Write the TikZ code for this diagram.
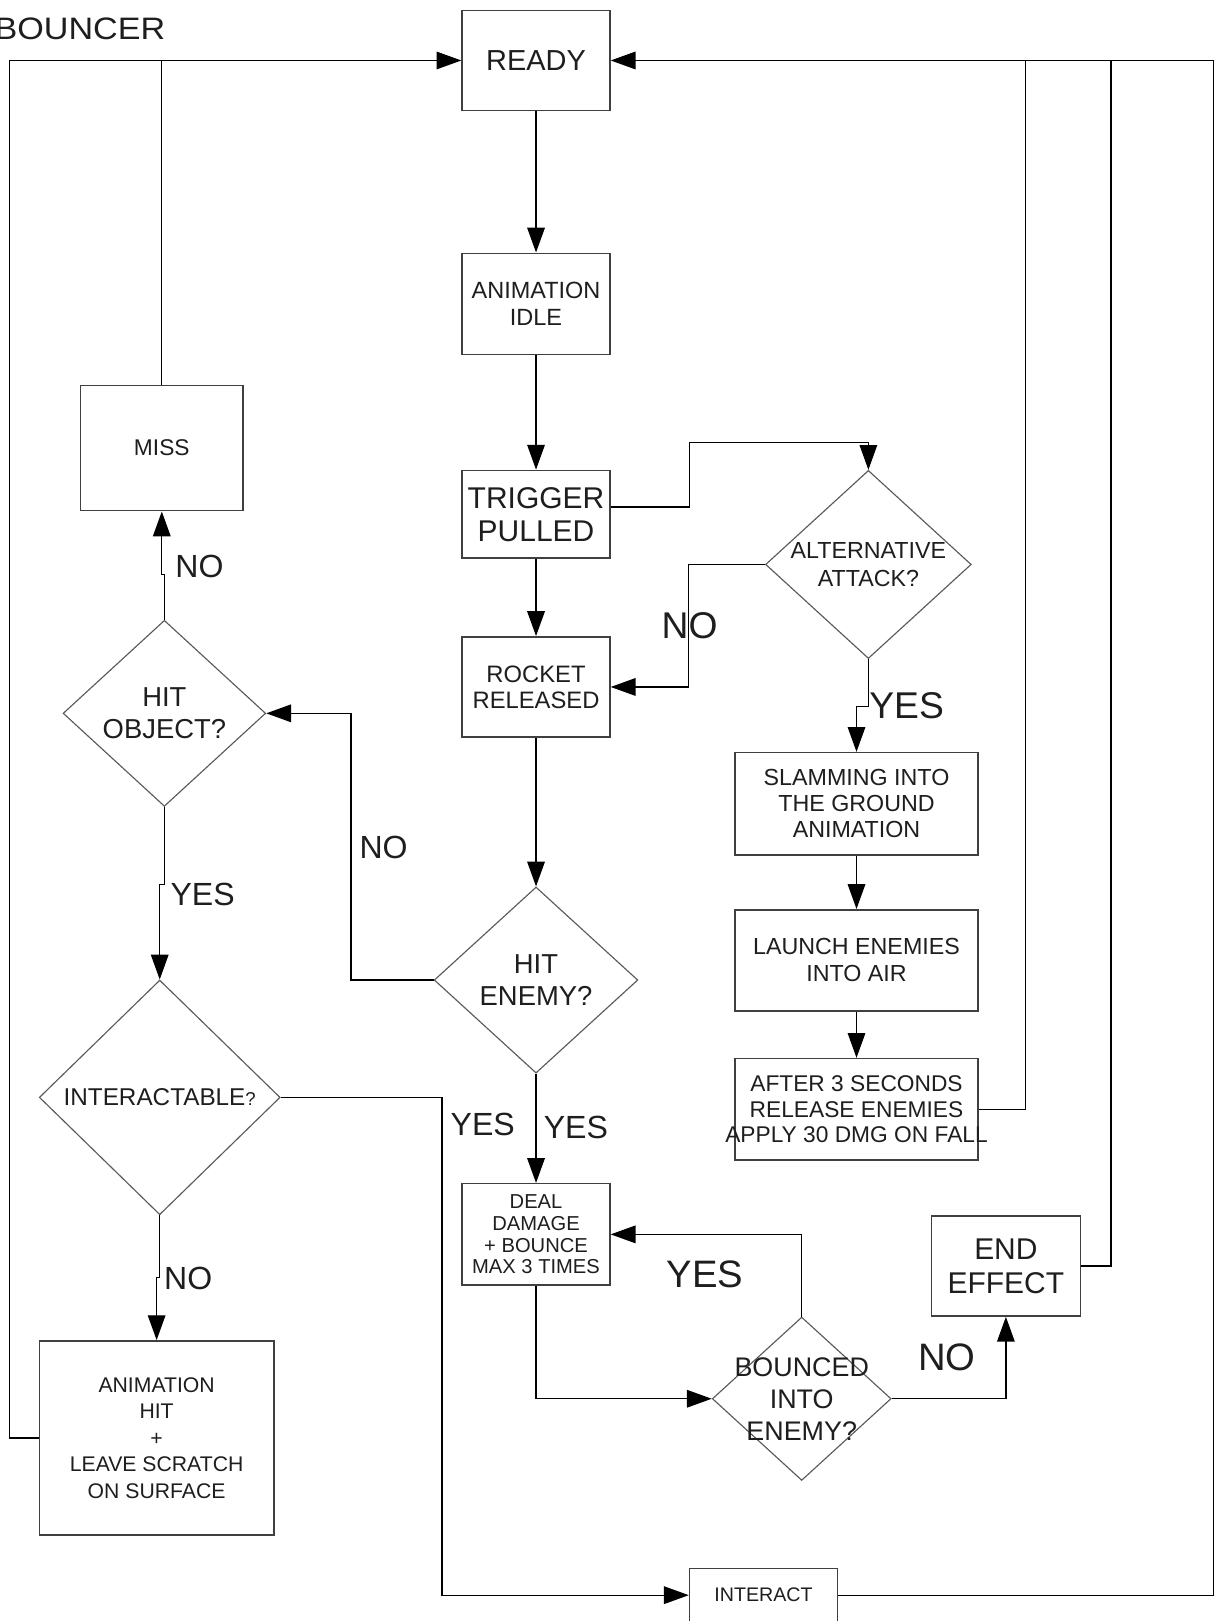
\documentclass[tikz,border=0pt]{standalone}
\usepackage{fontspec}
\usepackage{graphicx}
\setmainfont{Liberation Sans}
\usetikzlibrary{arrows.meta,shapes.geometric}
\definecolor{boxc}{HTML}{404040}
\definecolor{diac}{HTML}{5A5A5A}
\definecolor{txtc}{HTML}{1E1E1E}
\newcommand\fsz[2]{\fontsize{#1}{#2}\selectfont}
\begin{document}
\begin{tikzpicture}[x=1pt,y=-1pt,
  box/.style={draw=boxc, line width=1.5pt, inner sep=0pt, align=center, text=txtc},
  dia/.style={diamond, draw=diac, line width=1.1pt, inner sep=0pt},
  txt/.style={inner sep=0pt, align=center, text=txtc},
  conn/.style={draw=black, line width=1.3pt},
  arr/.style={conn, -{Triangle[length=24pt,width=17pt]}}]
\fill[white] (0,0) rectangle (1175,1568);
\useasboundingbox (0,0) rectangle (1175,1568);

% boxes
\node[box, minimum width=143pt, minimum height=97pt, font=\fsz{28}{32}] (ready) at (518.5,58.5) {READY};
\node[box, minimum width=143pt, minimum height=98pt, font=\fsz{22.7}{26}] (aniidle) at (518.5,294) {ANIMATION\\IDLE};
\node[box, minimum width=143pt, minimum height=85pt, font=\fsz{29}{32}] (trigger) at (518.5,497.5) {TRIGGER\\PULLED};
\node[box, minimum width=143pt, minimum height=97pt, font=\fsz{23}{25}] (rocket) at (518.5,664.5) {ROCKET\\RELEASED};
\node[box, minimum width=157pt, minimum height=121pt, font=\fsz{22}{26}] (miss) at (156.5,433.5) {MISS};
\node[box, minimum width=235pt, minimum height=99pt, font=\fsz{22.5}{25}] (slam) at (828.5,777.5) {SLAMMING INTO\\THE GROUND\\ANIMATION};
\node[box, minimum width=235pt, minimum height=98pt, font=\fsz{22.5}{26}] (launch) at (828.5,929) {LAUNCH ENEMIES\\INTO AIR};
\node[box, minimum width=235pt, minimum height=98pt] (after) at (828.5,1073) {};
\node[txt, font=\fsz{22}{25}] (afterT) at (after) {AFTER 3 SECONDS\\RELEASE ENEMIES\\APPLY 30 DMG ON FALL};
\node[box, minimum width=227pt, minimum height=188pt, font=\fsz{20.5}{25.7}] (anihit) at (151.5,1391) {ANIMATION\\HIT\\+\\LEAVE SCRATCH\\ON SURFACE};
\node[box, minimum width=143pt, minimum height=98pt, font=\fsz{19.5}{21}] (deal) at (518.5,1194) {DEAL\\DAMAGE\\+ BOUNCE\\MAX 3 TIMES};
\node[box, minimum width=144pt, minimum height=97pt, font=\fsz{29}{33}] (endeff) at (973,1224.5) {END\\EFFECT};
\node[box, minimum width=143pt, minimum height=52pt, font=\fsz{19}{22}] (interact) at (738.5,1543) {INTERACT};

% diamonds
\node[dia, minimum width=199pt, minimum height=182pt] (alt) at (840,546) {};
\node[txt, font=\fsz{22.5}{27}] (altT) at (alt) {ALTERNATIVE\\ATTACK?};
\node[dia, minimum width=197pt, minimum height=180pt] (hitenemy) at (518.5,948) {};
\node[txt, font=\fsz{26.5}{31}] (hitenemyT) at (hitenemy) {HIT\\ENEMY?};
\node[dia, minimum width=196pt, minimum height=180pt] (hitobj) at (159,690) {};
\node[txt, font=\fsz{26.5}{31}] (hitobjT) at (hitobj) {HIT\\OBJECT?};
\node[dia, minimum width=233pt, minimum height=227pt] (inter) at (154.5,1061.5) {};
\node[txt, font=\fsz{23.5}{28}] (interT) at (inter) {INTERACTABLE{\fsz{18}{18}?}};
\node[dia, minimum width=173pt, minimum height=158pt] (bounced) at (775.5,1353) {};
\node[txt, font=\fsz{26}{31}] (bouncedT) at (bounced) {BOUNCED\\INTO\\ENEMY?};

% labels
\node[txt, font=\fsz{30}{30}, anchor=east] (bouncer) at (160,28) {\scalebox{1.1}[1]{BOUNCER}};
\node[txt, font=\fsz{36}{36}] (noAlt) at (667,605) {NO};
\node[txt, font=\fsz{36}{36}] (yesAlt) at (877,683) {YES};
\node[txt, font=\fsz{31}{31}] (noHE) at (371,820) {NO};
\node[txt, font=\fsz{31}{31}] (noHO) at (193,548) {NO};
\node[txt, font=\fsz{31}{31}] (yesHO) at (196,865) {YES};
\node[txt, font=\fsz{31}{31}] (noIn) at (182,1237) {NO};
\node[txt, font=\fsz{31}{31}] (yesL) at (467,1088) {YES};
\node[txt, font=\fsz{31}{31}] (yesR) at (557,1091) {YES};
\node[txt, font=\fsz{37}{37}] (yesB) at (682,1233) {YES};
\node[txt, font=\fsz{37}{37}] (noB) at (916,1313) {NO};

% connectors
\draw[arr] (anihit.west) -- ++(-28,0) |- (ready.west);
\draw[conn] (miss.north) -- (miss.north |- ready.west);
\draw[arr] (ready.south) -- (aniidle.north);
\draw[arr] (aniidle.south) -- (trigger.north);
\draw[arr] (trigger.south) -- (rocket.north);
\coordinate (j1) at (667,428);
\draw[arr] ([yshift=7pt]trigger.east) -| (j1) -| (alt.north);
\draw[arr] (alt.west) -- ++(-74,0) |- (rocket.east);
\draw[arr] (alt.south) -- ++(0,46) -| (slam.north);
\draw[arr] (slam.south) -- (launch.north);
\draw[arr] (launch.south) -- (after.north);
\draw[arr] (interact.east) -- ++(363,0) |- (ready.east);
\draw[conn] (after.east) -- ++(45,0) coordinate (a1) -- (a1 |- ready.east);
\draw[conn] (endeff.east) -- ++(29,0) coordinate (a2) -- (a2 |- ready.east);
\draw[arr] (rocket.south) -- (hitenemy.north);
\draw[arr] (hitenemy.west) -- ++(-80,0) |- (hitobj.east);
\draw[arr] (hitobj.north) -- ++(0,-44) -| (miss.south);
\draw[arr] (hitobj.south) -- ++(0,75) -| (inter.north);
\draw[arr] (inter.south) -- ++(0,60) -| (anihit.north);
\draw[arr] (inter.east) -- ++(156,0) |- (interact.west);
\draw[arr] (hitenemy.south) -- (deal.north);
\draw[arr] (deal.south) |- (bounced.west);
\draw[arr] (bounced.north) |- (deal.east);
\draw[arr] (bounced.east) -| (endeff.south);
\end{tikzpicture}
\end{document}
